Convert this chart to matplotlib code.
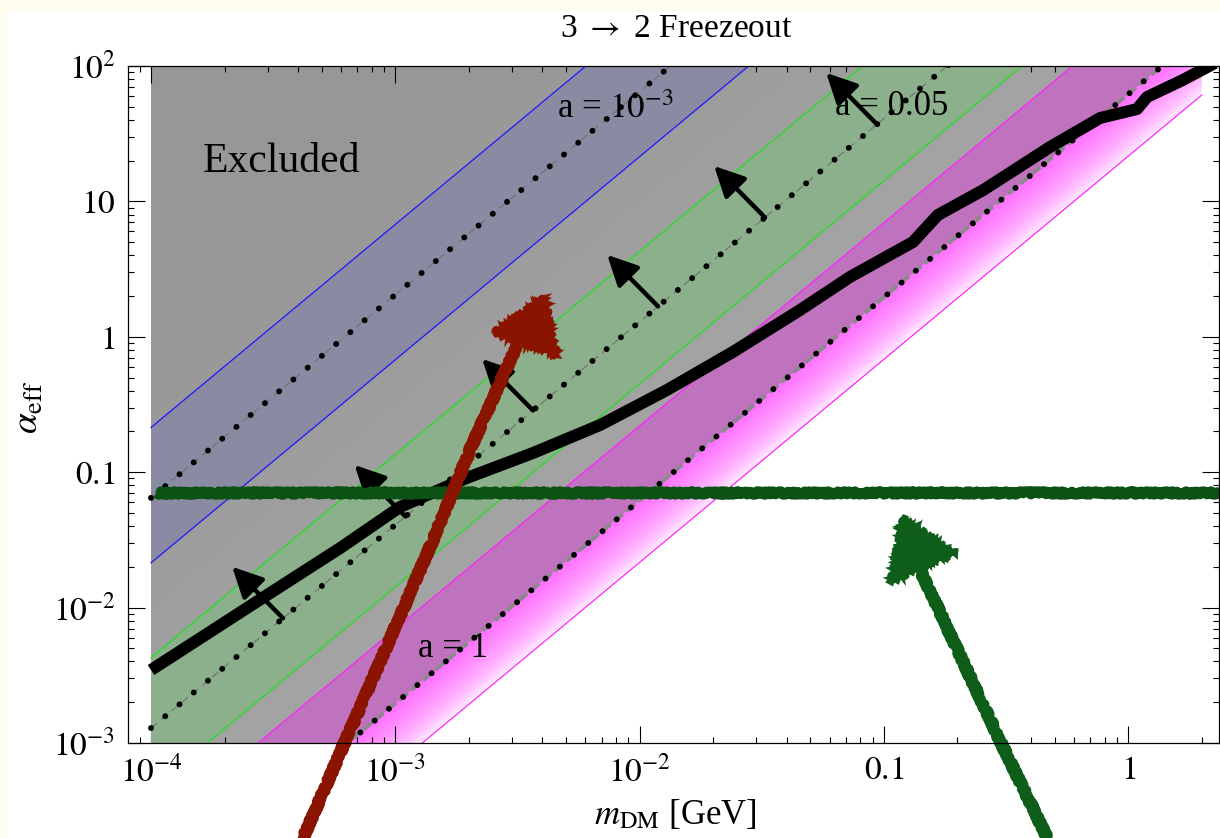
import numpy as np
import matplotlib.pyplot as plt
from matplotlib.colors import LinearSegmentedColormap
from matplotlib.patches import Polygon, Rectangle
from matplotlib.ticker import FixedLocator, LogLocator, NullFormatter

plt.rcParams['font.family'] = ['Liberation Serif', 'DejaVu Serif']
plt.rcParams['mathtext.fontset'] = 'stix'

# band lines are straight in log-log: alpha_eff read at m = 1e-4 GeV and m = 2 GeV
m_edge = [1.0e-4, 2.0]
blue_upper = [0.214, 6.03e5]
blue_center = [0.0646, 1.83e5]      # a = 1e-3
blue_lower = [0.0214, 6.05e4]
green_upper = [4.27e-3, 1.21e4]
green_center = [1.29e-3, 3.66e3]    # a = 0.05
green_lower = [4.5e-4, 1.27e3]
mag_upper = [2.2e-4, 622.0]
mag_center = [6.2e-5, 175.0]        # a = 1
mag_lower = [2.16e-5, 61.0]

# 3 -> 2 freezeout curve
curve_m = [1.0e-4, 2.99e-4, 5.94e-4, 1.045e-3, 1.43e-3, 1.96e-3, 3.66e-3, 6.9e-3,
           0.01294, 0.0241, 0.0454, 0.0727, 0.1315, 0.1663, 0.2545, 0.4786,
           0.767, 1.087, 1.194, 1.675, 2.26]
curve_alpha = [3.46e-3, 0.0124, 0.0275, 0.0553, 0.071, 0.0906, 0.1386, 0.2233,
               0.4046, 0.773, 1.578, 2.77, 5.01, 7.94, 12.1, 25.2,
               41.3, 48.1, 59.0, 78.9, 105.0]

# short arrows sitting on the a = 0.05 line
arrow_m = [3.47e-4, 1.10e-3, 3.66e-3, 0.0119, 0.0326, 0.0937]

# hand drawn marks
hline_m = [1.05e-4, 2.4]
hline_alpha = 0.07
red_shaft_m = [4.19e-4, 1.016e-3, 1.41e-3, 2.02e-3, 3.15e-3]
red_shaft_a = [1.99e-4, 7.69e-3, 0.030, 0.146, 0.869]
red_head = [(4.10e-3, 1.97), (2.51e-3, 1.08), (4.63e-3, 0.71)]
green_shaft_m = [0.466, 0.298, 0.142]
green_shaft_a = [1.99e-4, 1.05e-3, 0.0183]
green_head = [(0.1197, 0.0459), (0.106, 0.01545), (0.199, 0.0253)]

xlim = (8.05e-5, 2.353)
ylim = (1e-3, 1e2)

fig = plt.figure(figsize=(12.2, 8.38), dpi=100, facecolor='#fffdee')
fig.add_artist(Rectangle((7 / 1220, 0), 1, 827 / 838, transform=fig.transFigure,
                         facecolor='white', edgecolor='none', zorder=-10))
ax = fig.add_axes([128 / 1220, 95 / 838, 1091 / 1220, 677 / 838])
ax.set_xscale('log')
ax.set_yscale('log')
ax.set_xlim(*xlim)
ax.set_ylim(*ylim)
ax.set_facecolor('white')

# gradients (gray exclusion and pink below a = 1 line)
slope = (np.log10(mag_center[1]) - np.log10(mag_center[0])) / (np.log10(m_edge[1]) - np.log10(m_edge[0]))
def offset(vals):
    return np.log10(vals[0]) - slope * np.log10(m_edge[0])
c_cen, c_low = offset(mag_center), offset(mag_lower)
fx, fy = np.meshgrid(np.linspace(0, 1, 700), np.linspace(0, 1, 500))
lm = np.log10(xlim[0]) + fx * (np.log10(xlim[1]) - np.log10(xlim[0]))
la = np.log10(ylim[0]) + fy * (np.log10(ylim[1]) - np.log10(ylim[0]))
cc = la - slope * lm

big = 1e7
gray_poly = Polygon([(m_edge[0], mag_center[0]), (m_edge[1], mag_center[1]),
                     (m_edge[1], big), (m_edge[0], big)], transform=ax.transData)
gval = 0.648 - 0.058 * np.clip((cc - c_cen) / 4.2, 0, 1)
im = ax.imshow(gval, origin='lower', extent=(0, 1, 0, 1), transform=ax.transAxes,
               cmap='gray', vmin=0, vmax=1, aspect='auto', interpolation='bilinear', zorder=1)
im.set_clip_path(gray_poly)

pink = LinearSegmentedColormap.from_list('pink', ['#ffffff', '#ff70ff'])
pink_poly = Polygon([(m_edge[0], mag_lower[0]), (m_edge[1], mag_lower[1]),
                     (m_edge[1], mag_center[1]), (m_edge[0], mag_center[0])], transform=ax.transData)
pval = np.clip((cc - c_low) / (c_cen - c_low), 0, 1) ** 0.55
im2 = ax.imshow(pval, origin='lower', extent=(0, 1, 0, 1), transform=ax.transAxes,
                cmap=pink, vmin=0, vmax=1, aspect='auto', interpolation='bilinear', zorder=1)
im2.set_clip_path(pink_poly)

# bands
ax.fill_between(m_edge, mag_center, mag_upper, color='#bf72bd', lw=0, zorder=2)
ax.fill_between(m_edge, blue_lower, blue_upper, color='#8a8aa2', lw=0, zorder=2)
ax.fill_between(m_edge, green_lower, green_upper, color='#8bb08b', lw=0, zorder=2)
for ys in (blue_upper, blue_lower):
    ax.plot(m_edge, ys, color='#1a1aff', lw=0.9, zorder=3)
for ys in (green_upper, green_lower):
    ax.plot(m_edge, ys, color='#22e022', lw=0.9, zorder=3)
for ys in (mag_upper, mag_lower):
    ax.plot(m_edge, ys, color='#ff22ff', lw=0.9, zorder=3)

for ys in (blue_center, green_center):
    ax.plot(m_edge, ys, color='#707070', lw=0.8, dashes=(7, 5), zorder=3)
ax.plot(m_edge, mag_center, color='#8a8a8a', lw=2.6, dashes=(3, 1.3), zorder=3)
for ys in (blue_center, green_center, mag_center):
    ax.plot(m_edge, ys, color='k', lw=4.3, linestyle=(0, (0.001, 3.1)),
            dash_capstyle='round', zorder=4)

# labels inside
ax.text(1.63e-4, 16.5, 'Excluded', fontsize=30, zorder=3.5)
ax.text(4.59e-3, 41.3, r'a = $10^{-3}$', fontsize=25, zorder=3.5)
ax.text(0.063, 43.5, 'a = 0.05', fontsize=25, zorder=3.5)
ax.text(1.24e-3, 4.31e-3, 'a = 1', fontsize=25, zorder=3.5)

# arrows pointing to larger alpha
lg = np.log10(green_center)
for m in arrow_m:
    a0 = 10 ** np.interp(np.log10(m), np.log10(m_edge), lg)
    ax.annotate('', xy=(m * 10 ** -0.208, a0 * 10 ** 0.38), xytext=(m, a0),
                arrowprops=dict(arrowstyle='-|>', color='k', lw=3.2, mutation_scale=46,
                                shrinkA=0, shrinkB=0), zorder=4.5)

# freezeout curve
ax.plot(curve_m, curve_alpha, color='k', lw=8.6, solid_capstyle='butt',
        solid_joinstyle='round', zorder=5)

# hand drawn annotations
ln, = ax.plot(hline_m, [hline_alpha, hline_alpha], color='#0c5214', lw=7.5,
              solid_capstyle='butt', zorder=6)
ln.set_sketch_params(scale=1.5, length=3, randomness=6)

def rough(ms, als, head, color):
    l, = ax.plot(ms, als, color=color, lw=7.5, solid_capstyle='round', clip_on=False, zorder=7)
    l.set_sketch_params(scale=1.8, length=3, randomness=6)
    p = Polygon(head, closed=True, facecolor=color, edgecolor=color, lw=3,
                clip_on=False, zorder=7, transform=ax.transData)
    p.set_sketch_params(scale=2, length=3, randomness=6)
    ax.add_patch(p)

rough(red_shaft_m, red_shaft_a, red_head, '#8a1400')
rough(green_shaft_m, green_shaft_a, green_head, '#0e5e1a')

# axes styling
ax.xaxis.set_major_locator(FixedLocator([1e-4, 1e-3, 1e-2, 0.1, 1]))
ax.set_xticklabels([r'$10^{-4}$', r'$10^{-3}$', r'$10^{-2}$', r'$0.1$', r'$1$'])
ax.yaxis.set_major_locator(FixedLocator([1e-3, 1e-2, 0.1, 1, 10, 100]))
ax.set_yticklabels([r'$10^{-3}$', r'$10^{-2}$', r'$0.1$', r'$1$', r'$10$', r'$10^{2}$'])
for axis in (ax.xaxis, ax.yaxis):
    axis.set_minor_locator(LogLocator(base=10, subs=np.arange(2, 10), numticks=20))
    axis.set_minor_formatter(NullFormatter())
ax.tick_params(which='both', direction='in', top=True, right=True, width=0.8,
               labelsize=24, pad=9)
ax.tick_params(which='major', length=12)
ax.tick_params(which='minor', length=4)
for s in ax.spines.values():
    s.set_linewidth(0.9)
    s.set_zorder(8)
ax.set_xlim(*xlim)
ax.set_ylim(*ylim)

fig.text(676 / 1220, 1 - 37 / 838, r'3 $\rightarrow$ 2 Freezeout', ha='center',
         va='baseline', fontsize=24)
fig.text(29 / 1220, 1 - 407 / 838, r'$\alpha_{\rm eff}$', rotation=90, ha='center',
         va='center', fontsize=27)
fig.text(675 / 1220, 1 - 824 / 838, r'$m_{\rm DM}$ [GeV]', ha='center', va='baseline', fontsize=25)

fig.savefig('out.png', dpi=100, facecolor=fig.get_facecolor())
